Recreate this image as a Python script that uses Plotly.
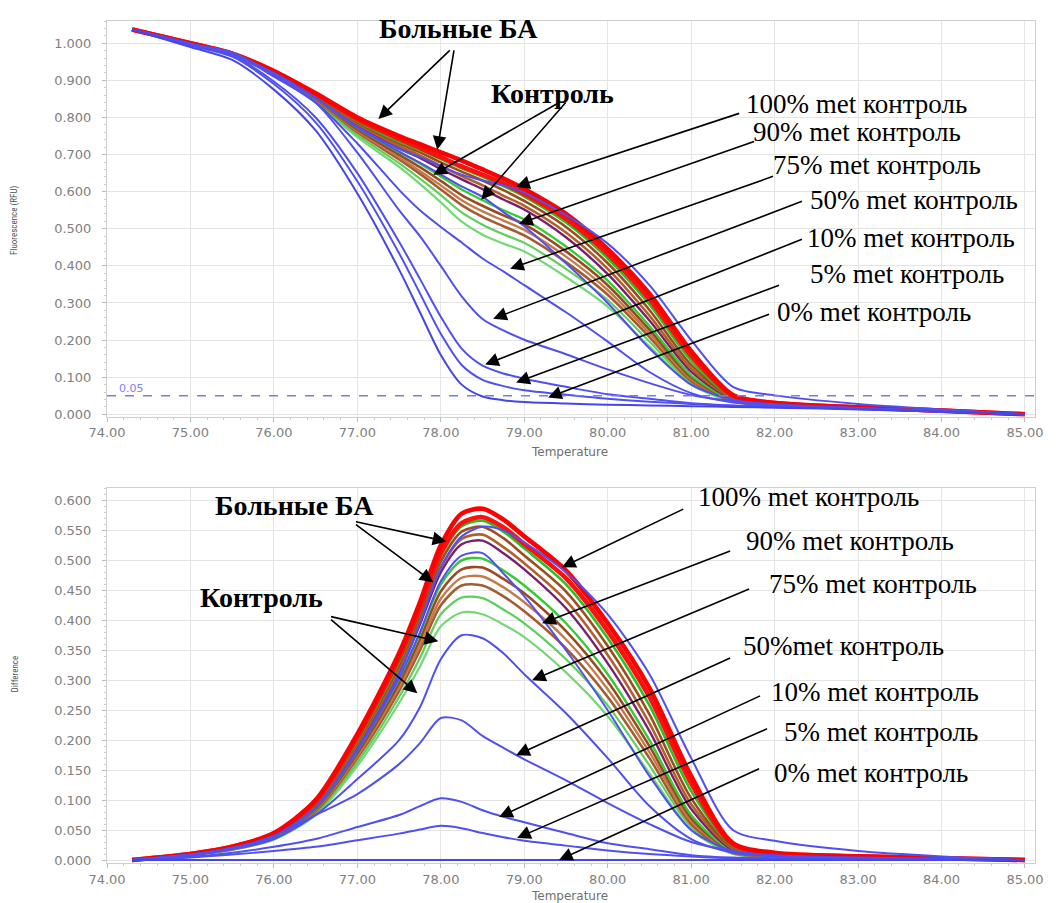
import plotly.graph_objects as go
from plotly.subplots import make_subplots

# ---------------- data ----------------
temperature = [74.3, 75.0, 75.5, 76.0, 76.5, 77.0, 77.5, 77.75, 78.0, 78.25, 78.5,
               78.75, 79.0, 79.5, 80.0, 80.5, 81.0, 81.5, 82.0, 83.0, 84.0, 85.0]

# Fluorescence (RFU), upper panel
rfu_s1 = [1.037, 1.0, 0.972, 0.925, 0.865, 0.80, 0.75, 0.728, 0.706, 0.684, 0.66, 0.635, 0.607, 0.54, 0.445, 0.325, 0.17, 0.052, 0.031, 0.019, 0.01, 0.0]
rfu_s2 = [1.037, 1.0, 0.972, 0.924, 0.863, 0.795, 0.742, 0.718, 0.693, 0.668, 0.646, 0.622, 0.594, 0.527, 0.432, 0.31, 0.158, 0.05, 0.03, 0.019, 0.01, 0.0]
rfu_s3 = [1.037, 1.0, 0.971, 0.923, 0.861, 0.79, 0.735, 0.713, 0.688, 0.663, 0.64, 0.615, 0.587, 0.517, 0.42, 0.296, 0.145, 0.047, 0.029, 0.018, 0.01, 0.0]
rfu_s4 = [1.037, 1.0, 0.971, 0.922, 0.859, 0.787, 0.73, 0.706, 0.679, 0.654, 0.63, 0.604, 0.575, 0.505, 0.407, 0.281, 0.133, 0.045, 0.029, 0.018, 0.01, 0.0]
rfu_s5 = [1.037, 1.0, 0.97, 0.921, 0.857, 0.783, 0.723, 0.698, 0.669, 0.642, 0.617, 0.589, 0.562, 0.49, 0.392, 0.266, 0.123, 0.043, 0.028, 0.018, 0.009, 0.0]
rfu_s6 = [1.037, 0.999, 0.97, 0.92, 0.855, 0.78, 0.718, 0.691, 0.661, 0.633, 0.607, 0.579, 0.552, 0.477, 0.378, 0.253, 0.115, 0.041, 0.027, 0.017, 0.009, 0.0]
rfu_s7 = [1.037, 0.999, 0.969, 0.919, 0.852, 0.773, 0.707, 0.676, 0.641, 0.606, 0.577, 0.55, 0.525, 0.452, 0.36, 0.238, 0.105, 0.039, 0.026, 0.017, 0.009, 0.0]
rfu_s8 = [1.037, 0.999, 0.969, 0.918, 0.85, 0.768, 0.70, 0.666, 0.629, 0.591, 0.562, 0.536, 0.512, 0.439, 0.348, 0.228, 0.10, 0.038, 0.026, 0.017, 0.009, 0.0]
rfu_s9 = [1.037, 0.999, 0.968, 0.917, 0.848, 0.764, 0.693, 0.656, 0.617, 0.577, 0.547, 0.522, 0.497, 0.425, 0.335, 0.218, 0.095, 0.037, 0.025, 0.016, 0.009, 0.0]
rfu_s10 = [1.037, 0.999, 0.968, 0.916, 0.846, 0.76, 0.687, 0.648, 0.606, 0.564, 0.532, 0.507, 0.482, 0.41, 0.322, 0.208, 0.09, 0.036, 0.025, 0.016, 0.009, 0.0]
rfu_s11 = [1.037, 0.998, 0.967, 0.915, 0.843, 0.753, 0.677, 0.635, 0.591, 0.544, 0.511, 0.485, 0.462, 0.392, 0.308, 0.196, 0.085, 0.035, 0.024, 0.016, 0.008, 0.0]
rfu_s12 = [1.037, 0.998, 0.967, 0.914, 0.84, 0.747, 0.667, 0.621, 0.571, 0.519, 0.484, 0.46, 0.439, 0.37, 0.29, 0.183, 0.08, 0.034, 0.024, 0.016, 0.008, 0.0]
rfu_met100 = [1.037, 0.999, 0.97, 0.92, 0.853, 0.775, 0.715, 0.693, 0.669, 0.646, 0.63, 0.617, 0.597, 0.537, 0.46, 0.348, 0.20, 0.074, 0.051, 0.028, 0.013, 0.0]
rfu_met90 = [1.037, 0.999, 0.969, 0.919, 0.852, 0.773, 0.708, 0.678, 0.646, 0.614, 0.586, 0.545, 0.507, 0.407, 0.30, 0.178, 0.08, 0.039, 0.027, 0.017, 0.009, 0.0]
rfu_met75 = [1.037, 0.998, 0.973, 0.91, 0.84, 0.73, 0.605, 0.55, 0.505, 0.463, 0.42, 0.385, 0.348, 0.275, 0.196, 0.114, 0.057, 0.032, 0.024, 0.016, 0.008, 0.0]
rfu_met50 = [1.037, 0.999, 0.975, 0.915, 0.84, 0.705, 0.55, 0.48, 0.40, 0.318, 0.257, 0.226, 0.201, 0.162, 0.121, 0.084, 0.052, 0.035, 0.025, 0.016, 0.008, 0.0]
rfu_met10 = [1.037, 0.995, 0.967, 0.897, 0.80, 0.65, 0.465, 0.365, 0.263, 0.177, 0.131, 0.11, 0.096, 0.074, 0.054, 0.042, 0.03, 0.024, 0.021, 0.015, 0.008, 0.0]
rfu_met5 = [1.037, 0.994, 0.964, 0.89, 0.787, 0.628, 0.434, 0.326, 0.217, 0.133, 0.093, 0.076, 0.065, 0.053, 0.042, 0.034, 0.028, 0.023, 0.02, 0.014, 0.007, 0.0]
rfu_met0 = [1.037, 0.99, 0.955, 0.875, 0.765, 0.595, 0.39, 0.275, 0.16, 0.08, 0.048, 0.038, 0.033, 0.029, 0.026, 0.024, 0.022, 0.02, 0.018, 0.013, 0.007, 0.0]

# Difference, lower panel
dif_s1 = [0, 0.01, 0.022, 0.045, 0.10, 0.21, 0.345, 0.43, 0.525, 0.578, 0.586, 0.568, 0.54, 0.483, 0.395, 0.287, 0.14, 0.028, 0.012, 0.006, 0.003, 0]
dif_s2 = [0, 0.01, 0.022, 0.044, 0.098, 0.205, 0.337, 0.42, 0.512, 0.562, 0.572, 0.555, 0.527, 0.47, 0.382, 0.272, 0.128, 0.026, 0.011, 0.006, 0.003, 0]
dif_s3 = [0, 0.01, 0.021, 0.043, 0.096, 0.2, 0.33, 0.415, 0.507, 0.557, 0.566, 0.548, 0.52, 0.46, 0.37, 0.258, 0.115, 0.023, 0.01, 0.005, 0.003, 0]
dif_s4 = [0, 0.01, 0.021, 0.042, 0.094, 0.197, 0.325, 0.408, 0.498, 0.548, 0.556, 0.537, 0.508, 0.448, 0.357, 0.243, 0.103, 0.021, 0.01, 0.005, 0.003, 0]
dif_s5 = [0, 0.01, 0.02, 0.041, 0.092, 0.193, 0.318, 0.4, 0.488, 0.536, 0.543, 0.522, 0.495, 0.433, 0.342, 0.228, 0.093, 0.019, 0.009, 0.005, 0.002, 0]
dif_s6 = [0, 0.009, 0.02, 0.04, 0.09, 0.19, 0.313, 0.393, 0.48, 0.527, 0.533, 0.512, 0.485, 0.42, 0.328, 0.215, 0.085, 0.017, 0.008, 0.004, 0.002, 0]
dif_s7 = [0, 0.009, 0.019, 0.039, 0.087, 0.183, 0.302, 0.378, 0.46, 0.5, 0.503, 0.483, 0.458, 0.395, 0.31, 0.2, 0.075, 0.015, 0.007, 0.004, 0.002, 0]
dif_s8 = [0, 0.009, 0.019, 0.038, 0.085, 0.178, 0.295, 0.368, 0.448, 0.485, 0.488, 0.469, 0.445, 0.382, 0.298, 0.19, 0.07, 0.014, 0.007, 0.004, 0.002, 0]
dif_s9 = [0, 0.009, 0.018, 0.037, 0.083, 0.174, 0.288, 0.358, 0.436, 0.471, 0.473, 0.455, 0.43, 0.368, 0.285, 0.18, 0.065, 0.013, 0.006, 0.003, 0.002, 0]
dif_s10 = [0, 0.009, 0.018, 0.036, 0.081, 0.17, 0.282, 0.35, 0.425, 0.458, 0.458, 0.44, 0.415, 0.353, 0.272, 0.17, 0.06, 0.012, 0.006, 0.003, 0.002, 0]
dif_s11 = [0, 0.008, 0.017, 0.035, 0.078, 0.163, 0.272, 0.337, 0.41, 0.438, 0.437, 0.418, 0.395, 0.335, 0.258, 0.158, 0.055, 0.011, 0.005, 0.003, 0.001, 0]
dif_s12 = [0, 0.008, 0.017, 0.034, 0.075, 0.157, 0.262, 0.323, 0.39, 0.413, 0.41, 0.393, 0.372, 0.313, 0.24, 0.145, 0.05, 0.01, 0.005, 0.003, 0.001, 0]
dif_met100 = [0, 0.009, 0.02, 0.04, 0.088, 0.185, 0.31, 0.395, 0.488, 0.54, 0.556, 0.55, 0.53, 0.48, 0.41, 0.31, 0.17, 0.05, 0.032, 0.015, 0.006, 0]
dif_met90 = [0, 0.009, 0.019, 0.039, 0.087, 0.183, 0.303, 0.38, 0.465, 0.508, 0.512, 0.478, 0.44, 0.35, 0.25, 0.14, 0.05, 0.015, 0.008, 0.004, 0.002, 0]
dif_met75 = [0, 0.008, 0.018, 0.035, 0.075, 0.135, 0.2, 0.255, 0.335, 0.375, 0.37, 0.345, 0.31, 0.245, 0.17, 0.09, 0.035, 0.012, 0.006, 0.003, 0.001, 0]
dif_met50 = [0, 0.009, 0.02, 0.04, 0.075, 0.11, 0.16, 0.195, 0.237, 0.233, 0.207, 0.187, 0.168, 0.133, 0.095, 0.06, 0.03, 0.015, 0.007, 0.003, 0.001, 0]
dif_met10 = [0, 0.005, 0.012, 0.022, 0.035, 0.055, 0.075, 0.09, 0.103, 0.097, 0.083, 0.072, 0.063, 0.045, 0.028, 0.018, 0.008, 0.004, 0.003, 0.002, 0.001, 0]
dif_met5 = [0, 0.004, 0.009, 0.015, 0.022, 0.033, 0.044, 0.051, 0.057, 0.053, 0.045, 0.038, 0.032, 0.024, 0.016, 0.01, 0.006, 0.003, 0.002, 0.001, 0, 0]
dif_met0 = [0] * 22

threshold = 0.05

x_ticks = [74, 75, 76, 77, 78, 79, 80, 81, 82, 83, 84, 85]

# ---------------- styles ----------------
samples = [  # (rfu, diff, color, width)
    (rfu_s12, dif_s12, "#74d874", 2.2),
    (rfu_s11, dif_s11, "#5ccf5c", 2.2),
    (rfu_s10, dif_s10, "#a65a30", 2.6),
    (rfu_s9, dif_s9, "#c47a48", 2.4),
    (rfu_s8, dif_s8, "#9a4a22", 2.6),
    (rfu_s7, dif_s7, "#33cc33", 2.4),
    (rfu_s6, dif_s6, "#7a1f6e", 2.4),
    (rfu_s5, dif_s5, "#b0602a", 2.6),
    (rfu_s4, dif_s4, "#9c4c20", 2.6),
    (rfu_s3, dif_s3, "#22c422", 2.6),
    (rfu_s2, dif_s2, "#ff1010", 4.6),
    (rfu_s1, dif_s1, "#ff0000", 4.6),
]
standards = [
    (rfu_met100, dif_met100, "#5050f0", 2.0),
    (rfu_met90, dif_met90, "#5050f0", 2.0),
    (rfu_met75, dif_met75, "#5050f0", 2.0),
    (rfu_met50, dif_met50, "#5050f0", 2.0),
    (rfu_met10, dif_met10, "#5050f0", 2.0),
    (rfu_met5, dif_met5, "#5050f0", 2.0),
    (rfu_met0, dif_met0, "#4646e6", 2.0),
]

fig = make_subplots(rows=2, cols=1, vertical_spacing=0.0)

for rfu, dif, col, w in samples + standards:
    fig.add_trace(go.Scatter(x=temperature, y=rfu, mode="lines",
                             line=dict(color=col, width=w, shape="spline", smoothing=0.8),
                             hoverinfo="skip", showlegend=False), row=1, col=1)
    fig.add_trace(go.Scatter(x=temperature, y=dif, mode="lines",
                             line=dict(color=col, width=w, shape="spline", smoothing=0.8),
                             hoverinfo="skip", showlegend=False), row=2, col=1)

# ---------------- geometry helpers (page pixel -> axis units) ----------------
OFF = 8                      # page body margin of the html page
PL, PR = 107, 1037
XR = [74, 85.12]
TOP_T, TOP_B, YR1 = 20, 416, [-0.006, 1.06]
BOT_T, BOT_B, YR2 = 488, 863, [-0.005, 0.62]
FIG_W, FIG_H = 1056 - OFF, 903 - OFF
PAPER_H = BOT_B - TOP_T


def px_x(px):
    return XR[0] + (px - PL) * (XR[1] - XR[0]) / (PR - PL)


def py_top(py):
    return YR1[0] + (TOP_B - py) * (YR1[1] - YR1[0]) / (TOP_B - TOP_T)


def py_bot(py):
    return YR2[0] + (BOT_B - py) * (YR2[1] - YR2[0]) / (BOT_B - BOT_T)


def paper_x(px):
    return (px - PL) / (PR - PL)


def paper_y(py):
    return (BOT_B - py) / PAPER_H


axis_font = dict(family="DejaVu Sans", size=13, color="#808080")
grid = "#e4e4e4"

common_x = dict(range=XR, tickvals=x_ticks, tickformat=".2f", showgrid=True,
                gridcolor=grid, gridwidth=1, zeroline=False, showline=True,
                linecolor="#cfcfcf", linewidth=1, mirror=True, ticks="outside",
                ticklen=4, tickcolor="#bbbbbb", tickfont=axis_font,
                minor=dict(dtick=0.2, ticks="outside", ticklen=2, tickcolor="#cccccc", showgrid=False))

fig.update_xaxes(**common_x, row=1, col=1)
fig.update_xaxes(**common_x, row=2, col=1)
fig.update_yaxes(range=YR1, dtick=0.1, tick0=0, tickformat=".3f", showgrid=True, gridcolor=grid,
                 zeroline=False, showline=True, linecolor="#cfcfcf", mirror=True,
                 ticks="outside", ticklen=4, tickcolor="#bbbbbb", tickfont=axis_font,
                 ticklabelstandoff=8,
                 minor=dict(dtick=0.02, ticks="outside", ticklen=2, tickcolor="#cccccc", showgrid=False),
                 row=1, col=1)
fig.update_yaxes(range=YR2, dtick=0.05, tick0=0, tickformat=".3f", showgrid=True, gridcolor=grid,
                 zeroline=False, showline=True, linecolor="#cfcfcf", mirror=True,
                 ticks="outside", ticklen=4, tickcolor="#bbbbbb", tickfont=axis_font,
                 ticklabelstandoff=8,
                 minor=dict(dtick=0.01, ticks="outside", ticklen=2, tickcolor="#cccccc", showgrid=False),
                 row=2, col=1)

fig.update_layout(
    width=FIG_W, height=FIG_H,
    margin=dict(l=PL - OFF, r=FIG_W - (PR - OFF), t=TOP_T - OFF, b=FIG_H - (BOT_B - OFF)),
    paper_bgcolor="white", plot_bgcolor="white", showlegend=False,
    yaxis=dict(domain=[paper_y(TOP_B), 1.0]),
    yaxis2=dict(domain=[0.0, paper_y(BOT_T)]),
)

# threshold dashed line
fig.add_shape(type="line", xref="x domain", x0=0, x1=1, yref="y", y0=threshold, y1=threshold,
              line=dict(color="#7a7af0", width=1.5, dash="dash"))
fig.add_annotation(x=px_x(117), y=py_top(388), xref="x", yref="y", text="0.05", showarrow=False,
                   xanchor="left", yanchor="middle",
                   font=dict(family="DejaVu Sans", size=11, color="#8080f0"))

# axis titles
ann = []
small = dict(family="Liberation Sans Narrow, Roboto Condensed, DejaVu Sans", size=9, color="#555555")
ann.append(dict(xref="paper", yref="paper", x=paper_x(15), y=paper_y(220), text="Fluorescence (RFU)",
                textangle=-90, showarrow=False, font=small, xanchor="center", yanchor="middle"))
ann.append(dict(xref="paper", yref="paper", x=paper_x(15), y=paper_y(674), text="Difference",
                textangle=-90, showarrow=False, font=small, xanchor="center", yanchor="middle"))
ann.append(dict(xref="paper", yref="paper", x=paper_x(570), y=paper_y(452), text="Temperature",
                showarrow=False, xanchor="center", yanchor="middle",
                font=dict(family="DejaVu Sans", size=12, color="#707070")))
ann.append(dict(xref="paper", yref="paper", x=paper_x(570), y=paper_y(896), text="Temperature",
                showarrow=False, xanchor="center", yanchor="middle",
                font=dict(family="DejaVu Sans", size=12, color="#707070")))

serif = "Liberation Serif, Times New Roman, serif"
bold_font = dict(family=serif, size=28, color="black", weight="bold")
reg_font = dict(family=serif, size=27, color="black")

# (text, left px, center py, bold)
top_labels = [
    ("Больные БА", 378, 28, True),
    ("Контроль", 490, 93, True),
    ("100% met контроль", 745, 103, False),
    ("90% met контроль", 752, 131, False),
    ("75% met контроль", 772, 164, False),
    ("50% met контроль", 810, 199, False),
    ("10% met контроль", 807, 237, False),
    ("5% met контроль", 810, 273, False),
    ("0% met контроль", 776, 311, False),
]
bot_labels = [
    ("Больные БА", 213, 505, True),
    ("Контроль", 198, 597, True),
    ("100% met контроль", 697, 497, False),
    ("90% met контроль", 745, 541, False),
    ("75% met контроль", 768, 584, False),
    ("50%met контроль", 742, 646, False),
    ("10% met контроль", 770, 692, False),
    ("5% met контроль", 783, 732, False),
    ("0% met контроль", 773, 773, False),
]
# arrows: (tail px, tail py, tip px, tip py)
top_arrows = [
    (452, 48, 379, 118), (455, 48, 438, 149),
    (563, 100, 434, 174), (568, 100, 482, 199),
    (742, 112, 517, 186), (757, 140, 520, 223), (776, 175, 511, 268),
    (805, 200, 494, 318), (805, 238, 486, 364), (782, 284, 517, 382), (772, 313, 549, 397),
]
bot_arrows = [
    (355, 521, 447, 541), (355, 523, 434, 582),
    (330, 616, 439, 641), (330, 618, 418, 693),
    (686, 508, 563, 567), (733, 550, 543, 623), (752, 588, 533, 680),
    (733, 657, 517, 755), (763, 695, 500, 817), (770, 728, 518, 838), (762, 768, 560, 860),
]

for text, lx, cy, b in top_labels:
    ann.append(dict(xref="x", yref="y", x=px_x(lx), y=py_top(cy), text=text, showarrow=False,
                    xanchor="left", yanchor="middle", font=bold_font if b else reg_font))
for text, lx, cy, b in bot_labels:
    ann.append(dict(xref="x2", yref="y2", x=px_x(lx), y=py_bot(cy), text=text, showarrow=False,
                    xanchor="left", yanchor="middle", font=bold_font if b else reg_font))

arrow_style = dict(showarrow=True, text="", arrowhead=2, arrowsize=1.7, arrowwidth=1.6,
                   arrowcolor="black", standoff=0, startstandoff=0)
for tx, ty, hx, hy in top_arrows:
    ann.append(dict(xref="x", yref="y", axref="x", ayref="y", x=px_x(hx), y=py_top(hy),
                    ax=px_x(tx), ay=py_top(ty), **arrow_style))
for tx, ty, hx, hy in bot_arrows:
    ann.append(dict(xref="x2", yref="y2", axref="x2", ayref="y2", x=px_x(hx), y=py_bot(hy),
                    ax=px_x(tx), ay=py_bot(ty), **arrow_style))

for a in ann:
    fig.add_annotation(**a)

fig.write_html("out.html")
